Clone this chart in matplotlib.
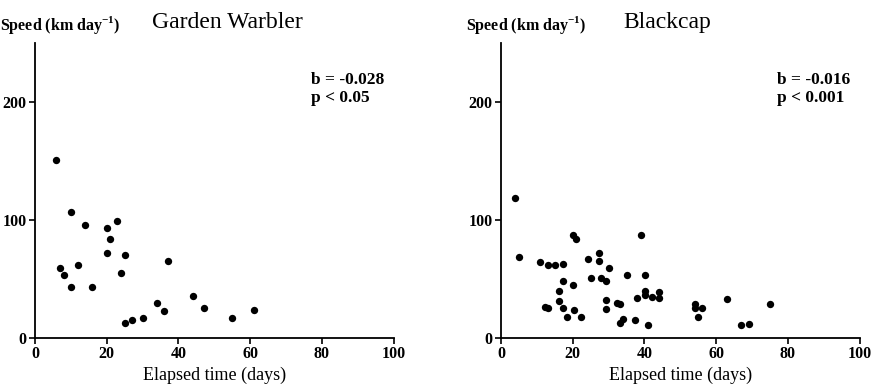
import numpy as np
import matplotlib.pyplot as plt

plt.rcParams['font.family'] = ['Liberation Serif', 'DejaVu Serif']
plt.rcParams['mathtext.fontset'] = 'custom'
plt.rcParams['mathtext.rm'] = 'Liberation Serif'
plt.rcParams['mathtext.bf'] = 'Liberation Serif:bold'

# Garden Warbler: elapsed time (days) vs speed (km/day)
gw_days = [6, 10, 14, 20, 23, 21, 20, 25, 24, 37, 7, 8, 12, 10, 16,
           25, 27, 30, 34, 36, 44, 47, 55, 61]
gw_speed = [151, 107, 96, 93, 99, 84, 72, 70, 55, 65, 59, 53, 62, 43, 43,
            13, 15, 17, 30, 23, 36, 25, 17, 24]

# Blackcap
bc_days = [4, 5, 11, 13, 15, 17.4, 20, 21, 24.3, 27.3, 27.3, 30.2, 25.2, 28, 29.2,
           17.3, 20.2, 16.2, 16.2, 12.4, 13.2, 17.4, 20.3, 18.3, 22.2, 29.4, 29.2,
           32.2, 33.1, 35.1, 39, 40.2, 40.2, 40.2, 38, 42, 44, 44, 33.1, 34, 37.3,
           41.1, 54, 54, 56, 55, 63, 67, 69, 75]
bc_speed = [119, 69, 64, 62, 62, 62.5, 87, 83.5, 67, 72, 65.5, 59, 50.5, 51, 48,
            48, 45, 40, 31.5, 26, 25.5, 25.5, 23.5, 17.5, 17.5, 32, 24.5,
            29.5, 28.5, 53.5, 87, 53, 40, 36.5, 33.5, 35, 39, 33.5, 12.5, 16, 15,
            11, 29, 25.5, 25, 18, 33, 11, 12, 29]

# (x, y, title, stats text, axes left, label left, title left)
panels = [
    (gw_days, gw_speed, 'Garden Warbler', 'b = -0.028\np < 0.05', 0.040, 0.0, 0.174),
    (bc_days, bc_speed, 'Blackcap', 'b = -0.016\np < 0.001', 0.5732, 0.533, 0.7128),
]

fig = plt.figure(figsize=(8.74, 3.86), dpi=100)

for days, speed, title, stats, left, lab_x, tit_x in panels:
    ax = fig.add_axes([left, 0.1244, 0.4105, 0.7642])
    ax.scatter(days, speed, s=28, color='black', linewidths=0, zorder=3)
    ax.set_xlim(0, 100)
    ax.set_ylim(0, 250)
    ax.set_xticks([0, 20, 40, 60, 80, 100])
    ax.set_yticks([0, 100, 200])
    for s in ['top', 'right']:
        ax.spines[s].set_visible(False)
    for s in ['left', 'bottom']:
        ax.spines[s].set_linewidth(1.3)
    ax.tick_params(direction='out', length=4, width=1.2, labelsize=11.5, pad=2)
    for lab in ax.get_xticklabels() + ax.get_yticklabels():
        lab.set_fontweight('bold')
    ax.set_xlabel('Elapsed time (days)', fontsize=13, labelpad=3)
    ax.text(77, 211, stats, fontsize=12.5, fontweight='bold', va='center',
            linespacing=1.1)
    # axis label and title along the top of each panel
    fig.text(lab_x, 0.935, r'Speed (km day$^{\mathbf{-1}}$)', fontsize=11.5,
             fontweight='bold', va='center', ha='left')
    fig.text(tit_x, 0.943, title, fontsize=17, va='center', ha='left')

fig.savefig('out.png', dpi=100)
